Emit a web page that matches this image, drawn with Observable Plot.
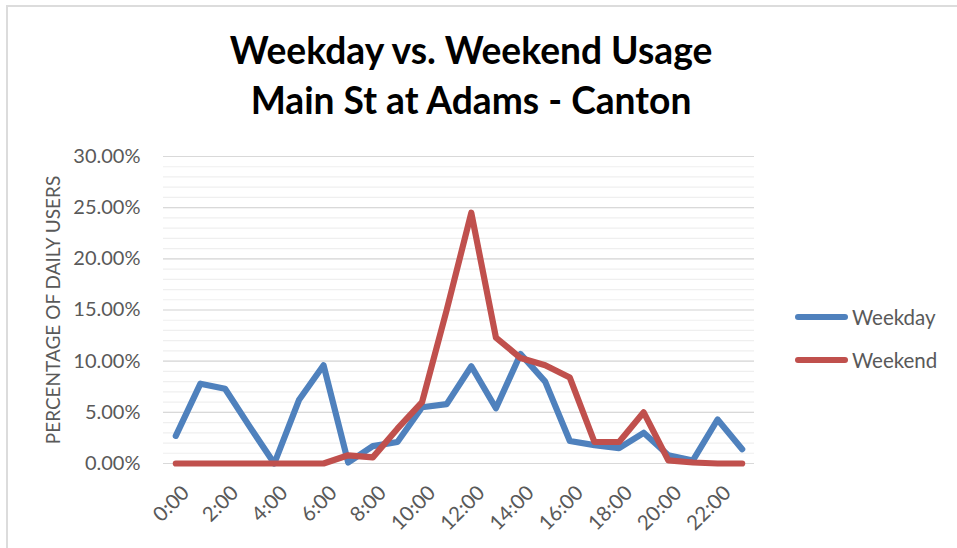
<!DOCTYPE html>
<html>
<head>
<meta charset="utf-8">
<script src="https://cdn.jsdelivr.net/npm/d3@7"></script>
<script src="https://cdn.jsdelivr.net/npm/@observablehq/plot@0.6"></script>
<style>
  html, body { margin: 0; padding: 0; background: #fff; }
  #wrap { position: relative; width: 957px; height: 548px; overflow: hidden; font-family: Lato, "Open Sans", sans-serif; }
  #frame { position: absolute; left: 6px; top: 5px; width: 1000px; height: 600px; border-top: 2px solid #dcdcdc; border-left: 2px solid #dcdcdc; box-sizing: border-box; }
  #title { position: absolute; left: 0; width: 942px; top: 25px; text-align: center; font-weight: 700; font-size: 37.2px; line-height: 50px; color: #000; }
  #chart { position: absolute; left: 0; top: 0; }
  .leg { position: absolute; left: 795px; display: flex; align-items: center; font-size: 20.5px; color: #595959; }
  .leg span.sw { display: inline-block; width: 53px; height: 6px; border-radius: 3px; margin-right: 4px; }
</style>
</head>
<body>
<div id="wrap">
  <div id="frame"></div>
  <div id="chart"></div>
  <div id="title">Weekday vs. Weekend Usage<br>Main St at Adams - Canton</div>
  <div id="legend"></div>
</div>
<script>
const hours = ["0:00","1:00","2:00","3:00","4:00","5:00","6:00","7:00","8:00","9:00","10:00","11:00",
               "12:00","13:00","14:00","15:00","16:00","17:00","18:00","19:00","20:00","21:00","22:00","23:00"];
const hourTicks = ["0:00","2:00","4:00","6:00","8:00","10:00","12:00","14:00","16:00","18:00","20:00","22:00"];
const seriesNames = ["Weekday", "Weekend"];
const weekday = [0.027, 0.078, 0.073, 0.036, 0.000, 0.062, 0.096, 0.001, 0.017, 0.021, 0.055, 0.058,
                 0.095, 0.054, 0.107, 0.080, 0.022, 0.018, 0.015, 0.030, 0.008, 0.003, 0.043, 0.014];
const weekend = [0.000, 0.000, 0.000, 0.000, 0.000, 0.000, 0.000, 0.008, 0.006, 0.034, 0.060, 0.150,
                 0.245, 0.123, 0.103, 0.096, 0.084, 0.021, 0.021, 0.050, 0.003, 0.001, 0.000, 0.000];
const yMajorTicks = [0, 0.05, 0.10, 0.15, 0.20, 0.25, 0.30];
const yLabel = "PERCENTAGE OF DAILY USERS";
const colors = ["#4f81bd", "#c0504d"];

const data = [];
hours.forEach((h, i) => data.push({hour: h, value: weekday[i], series: seriesNames[0]}));
hours.forEach((h, i) => data.push({hour: h, value: weekend[i], series: seriesNames[1]}));
const yMinorTicks = d3.ticks(0, 0.3, 30);

const chart = Plot.plot({
  width: 957,
  height: 548,
  marginLeft: 163,
  marginRight: 203,
  marginTop: 156,
  marginBottom: 85,
  style: {fontFamily: "Lato, 'Open Sans', sans-serif", color: "#595959", background: "transparent"},
  x: {type: "point", domain: hours, padding: 0.5, round: false},
  y: {domain: [0, 0.3]},
  color: {domain: seriesNames, range: colors},
  marks: [
    Plot.ruleY(yMinorTicks, {stroke: "#efefef", strokeWidth: 1.2}),
    Plot.ruleY(yMajorTicks, {stroke: "#d9d9d9", strokeWidth: 1.2}),
    Plot.axisY({ticks: yMajorTicks, tickFormat: d3.format(".2%"), tickSize: 0, tickPadding: 23,
                fontSize: 20, label: yLabel, labelAnchor: "center", labelArrow: "none", labelOffset: 117}),
    Plot.axisX({ticks: hourTicks, tickSize: 0, tickPadding: 26, dx: 10, tickRotate: -45, fontSize: 20.5, label: null}),
    Plot.line(data, {x: "hour", y: "value", stroke: "series", z: "series", strokeWidth: 6.2,
                     strokeLinecap: "round", strokeLinejoin: "round"})
  ]
});
chart.querySelectorAll("[aria-label='y-axis label']").forEach(e => e.setAttribute("font-size", 19));
document.getElementById("chart").appendChild(chart);

const legend = document.getElementById("legend");
seriesNames.forEach((name, i) => {
  const d = document.createElement("div");
  d.className = "leg";
  d.style.top = (318 + i * 43 - 13) + "px";
  d.style.height = "24px";
  d.innerHTML = `<span class="sw" style="background:${colors[i]}"></span>${name}`;
  legend.appendChild(d);
});
</script>
</body>
</html>
